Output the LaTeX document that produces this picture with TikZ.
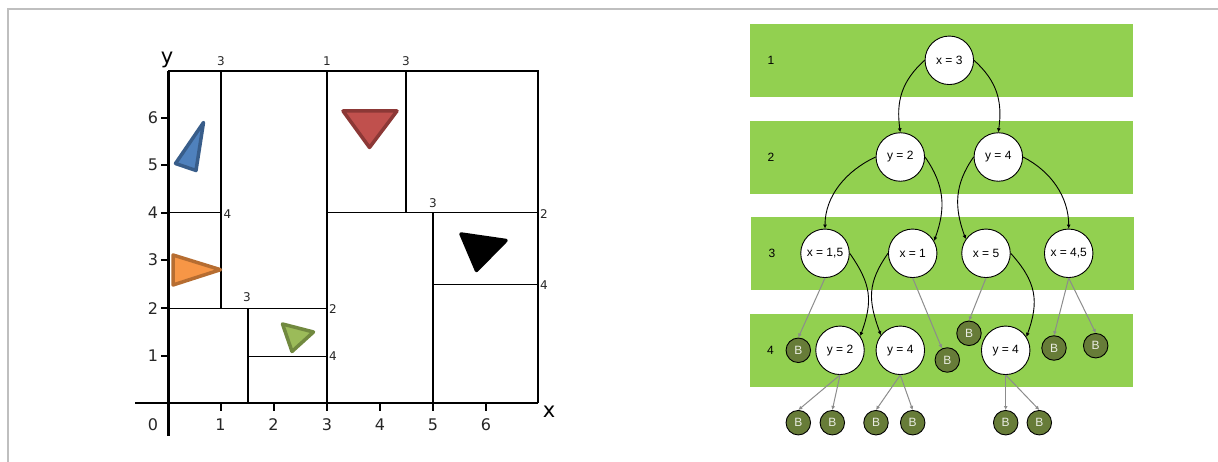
\documentclass[tikz,border=0pt]{standalone}
\usepackage{fontspec}
\setmainfont{Liberation Sans}
\newfontfamily\axisfont{DejaVu Sans}
\usetikzlibrary{arrows.meta}
\definecolor{bandcol}{HTML}{92D050}
\definecolor{leafcol}{HTML}{677C38}
\definecolor{framecol}{HTML}{BFBFBF}
\definecolor{linkcol}{HTML}{8C8C8C}
\definecolor{bluefill}{HTML}{4F81BD}
\definecolor{blueline}{HTML}{385D8A}
\definecolor{redfill}{HTML}{C0504D}
\definecolor{redline}{HTML}{8C3836}
\definecolor{orangefill}{HTML}{F79646}
\definecolor{orangeline}{HTML}{B66D31}
\definecolor{greenfill}{HTML}{9BBB59}
\definecolor{greenline}{HTML}{71893F}
\tikzset{
  band/.style={fill=bandcol, draw=none},
  split/.style={draw=black, fill=white, circle, inner sep=0pt, minimum size=48.5pt,
                line width=0.9pt, font=\fontsize{12}{13}\selectfont},
  leaf/.style={draw=black, fill=leafcol, circle, inner sep=0pt, minimum size=24.5pt,
               line width=0.9pt, text=white!85!leafcol, font=\fontsize{12}{13}\selectfont},
  level/.style={inner sep=0pt, font=\fontsize{12}{13}\selectfont},
  ticklab/.style={inner sep=0pt, font=\axisfont\fontsize{16}{17}\selectfont, text=black!85},
  smalllab/.style={inner sep=0pt, font=\axisfont\fontsize{12}{13}\selectfont, text=black!85},
  axislab/.style={inner sep=0pt, font=\axisfont\fontsize{21}{22}\selectfont},
  heavy/.style={line width=1.6pt},
  light/.style={line width=1pt},
  curved/.style={-{Latex[length=4pt,width=4pt]}, line width=0.9pt},
  toleaf/.style={-{Latex[length=4pt,width=4pt]}, draw=linkcol, line width=1pt},
  tri/.style={line width=3.5pt, line join=round},
}

\begin{document}
\begin{tikzpicture}[x=1pt, y=-1pt]
  \useasboundingbox (0,0) rectangle (1218,462);
  % frame
  \draw[framecol, line width=2pt] (7.5,462) -- (7.5,9.5) -- (1218,9.5);

  % partitions
  \draw[heavy] (168,71) -- (538,71) -- (538,403);
  \draw[heavy] (221,71) -- (221,308.5);
  \draw[heavy] (327,71) -- (327,403);
  \draw[heavy] (406,71) -- (406,213);
  \draw[heavy] (433,213) -- (433,403);
  \draw[heavy] (248,308.5) -- (248,403);
  \draw[light] (168,213) -- (221,213);
  \draw[light] (168,308.5) -- (327,308.5);
  \draw[light] (248,356) -- (327,356);
  \draw[light] (327,213) -- (538,213);
  \draw[light] (433,285) -- (538,285);

  % axes
  \draw[line width=2.8pt] (168.5,71) -- (168.5,436);
  \draw[line width=2pt] (135,403) -- (538,403);
  \foreach \i/\px in {1/220.5, 2/273.5, 3/327, 4/380, 5/433, 6/486} {
    \draw[line width=2pt] (\px,403) -- (\px,411);
    \node[ticklab] (tx\i) at (\px,424.5) {\i};
  }
  \foreach \i/\py in {1/356, 2/308.5, 3/260, 4/213, 5/165, 6/118} {
    \draw[line width=2pt] (161,\py) -- (168,\py);
    \node[ticklab] (ty\i) at (153,\py) {\i};
  }
  \node[ticklab] (origin) at (153,424.5) {0};
  \node[axislab] (ylab) at (167,60) {y};
  \node[axislab] (xlab) at (549,412) {x};

  % split labels
  \node[smalllab] (s1) at (221,61) {3};
  \node[smalllab] (s2) at (327,61) {1};
  \node[smalllab] (s3) at (406,61) {3};
  \node[smalllab] (s4) at (433,203) {3};
  \node[smalllab] (s5) at (247,297.5) {3};
  \node[smalllab] (s6) at (227.5,214) {4};
  \node[smalllab] (s7) at (333,309) {2};
  \node[smalllab] (s8) at (333,356) {4};
  \node[smalllab] (s9) at (544,214) {2};
  \node[smalllab] (s10) at (544,285) {4};

  % triangles
  \draw[tri, draw=blueline, fill=bluefill] (203.5,122.5) -- (175.5,163.5) -- (196,170.5) -- cycle;
  \draw[tri, draw=redline, fill=redfill] (343,111) -- (397,111) -- (369.5,147.5) -- cycle;
  \draw[tri, draw=orangeline, fill=orangefill] (173,255) -- (220.5,269.7) -- (173,285) -- cycle;
  \draw[tri, draw=greenline, fill=greenfill] (282.5,324) -- (313.5,332) -- (292,351.5) -- cycle;
  \draw[tri, draw=black, fill=black] (461,234) -- (506,240.5) -- (476.5,270.5) -- cycle;

  % levels
  \foreach \ytop/\xleft in {24/750, 121/750, 217/751, 314/750} {
    \fill[band] (\xleft,\ytop) rectangle ++(383,73);
  }
  \node[level] (lev1) at (771,60) {1};
  \node[level] (lev2) at (771,157) {2};
  \node[level] (lev3) at (772,253) {3};
  \node[level] (lev4) at (770.5,350) {4};

  % tree
  \node[split] (xroot) at (949.3,60.3) {x = 3};
  \node[split] (ylow) at (900.3,157) {y = 2};
  \node[split] (yhigh) at (998.3,157) {y = 4};
  \node[split] (xa) at (825,253.3) {x = 1,5};
  \node[split] (xb) at (912.7,253.3) {x = 1};
  \node[split] (xc) at (986,253.3) {x = 5};
  \node[split] (xd) at (1068.7,253.3) {x = 4,5};
  \node[split] (ya) at (840,350.3) {y = 2};
  \node[split] (yb) at (900.3,350.3) {y = 4};
  \node[split] (yc) at (1005.7,350.3) {y = 4};

  \node[leaf] (ba) at (798.3,350.3) {B};
  \node[leaf] (bb) at (947.3,360) {B};
  \node[leaf] (bc) at (969,333.3) {B};
  \node[leaf] (bd) at (1054,348) {B};
  \node[leaf] (be) at (1095.7,345.7) {B};
  \node[leaf] (bf) at (798.3,422.7) {B};
  \node[leaf] (bg) at (832.3,422.7) {B};
  \node[leaf] (bh) at (876,422.7) {B};
  \node[leaf] (bi) at (912.7,422.7) {B};
  \node[leaf] (bj) at (1005.7,422.7) {B};
  \node[leaf] (bk) at (1039.3,422.7) {B};

  \draw[curved] (xroot.west) to[out=222, in=98, looseness=1.05] (ylow.north);
  \draw[curved] (xroot.east) to[out=-42, in=82, looseness=1.05] (yhigh.north);
  \draw[curved] (ylow.west) to[out=205, in=90, looseness=0.95] (xa.north);
  \draw[curved] (ylow.east) to[out=-55, in=70, looseness=1.05] (xb.30);
  \draw[curved] (yhigh.west) to[out=235, in=110, looseness=1.05] (xc.145);
  \draw[curved] (yhigh.east) to[out=-27, in=90, looseness=0.95] (xd.north);
  \draw[curved] (xa.east) to[out=-55, in=70, looseness=1.15] (ya.35);
  \draw[curved] (xb.west) to[out=235, in=110, looseness=1.15] (yb.142);
  \draw[curved] (xc.east) to[out=-48, in=70, looseness=1.15] (yc.33);

  \draw[toleaf] (xa.south) -- (ba.north);
  \draw[toleaf] (xb.south) -- (bb.115);
  \draw[toleaf] (xc.south) -- (bc.north);
  \draw[toleaf] (xd.south) -- (bd.north);
  \draw[toleaf] (xd.south) -- (be.north);
  \draw[toleaf] (ya.south) -- (bf.north);
  \draw[toleaf] (ya.south) -- (bg.north);
  \draw[toleaf] (yb.south) -- (bh.north);
  \draw[toleaf] (yb.south) -- (bi.north);
  \draw[toleaf] (yc.south) -- (bj.north);
  \draw[toleaf] (yc.south) -- (bk.north);
\end{tikzpicture}
\end{document}
